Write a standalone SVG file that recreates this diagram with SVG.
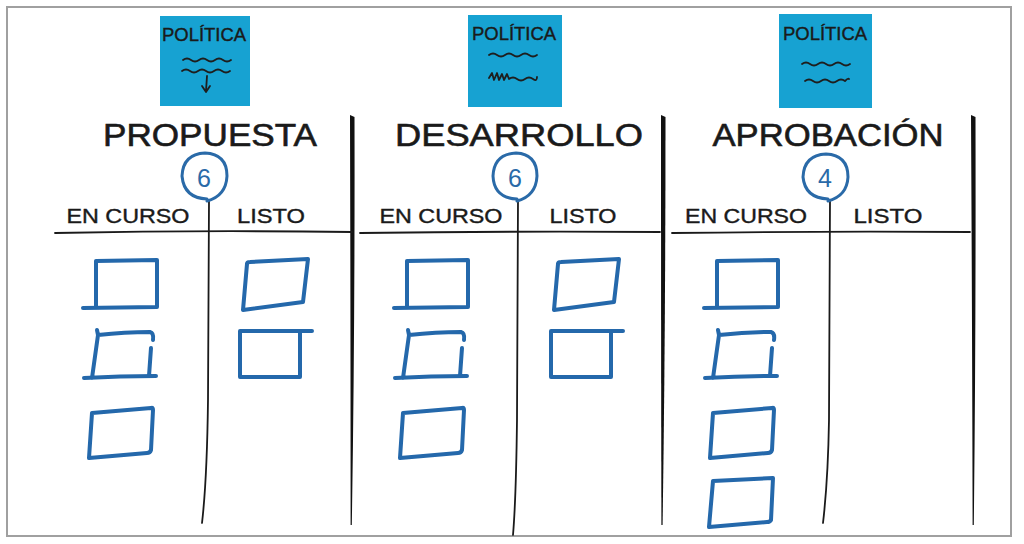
<svg xmlns="http://www.w3.org/2000/svg" width="1024" height="544" viewBox="0 0 1024 544">
<style>
.note{fill:#17a2d2}
.ink{fill:none;stroke:#1e1e1e;stroke-width:1.8;stroke-linecap:round;stroke-linejoin:round}
.ntext{font-family:"Liberation Sans",Arial,sans-serif;font-size:18px;fill:#1a1a1a;stroke:#1a1a1a;stroke-width:0.4;text-anchor:middle}
.head{font-family:"Liberation Sans",Arial,sans-serif;font-size:32px;fill:#1a1a1a;stroke:#1a1a1a;stroke-width:0.6;text-anchor:middle}
.sub{font-family:"Liberation Sans",Arial,sans-serif;font-size:21px;fill:#1a1a1a;stroke:#1a1a1a;stroke-width:0.4;text-anchor:middle}
.num{font-family:"Liberation Sans",Arial,sans-serif;font-size:25px;fill:#2a6aa8;text-anchor:middle}
.ring{fill:none;stroke:#2a6aa8;stroke-width:3;stroke-linecap:round}
.card{fill:none;stroke:#2468ab;stroke-width:4;stroke-linecap:round;stroke-linejoin:round}
.rule{fill:none;stroke:#1a1a1a;stroke-width:1.8;stroke-linecap:round}
.major{fill:#111}
</style>
<rect x="0" y="0" width="1024" height="544" fill="#ffffff"/>
<rect x="7" y="7" width="1004" height="529" fill="#ffffff" stroke="#a0a0a0" stroke-width="2"/>

<g id="policy1">
<rect class="note" x="160" y="16" width="90" height="90"/>
<text class="ntext" x="204" y="41" textLength="84" lengthAdjust="spacingAndGlyphs">POLÍTICA</text>
<path class="ink" d="M183,60 q4,-3 8,0 t8,0 t8,0 t8,0 t8,0 t8,0"/>
<path class="ink" d="M182,71 q4,-3 8,0 t8,0 t8,0 t8,0 t8,0 t8,0"/>
<path class="ink" d="M207,76 L206,91 M202,86 L206,92 L210,86"/>
</g>
<g id="policy2">
<rect class="note" x="468" y="15" width="94" height="92"/>
<text class="ntext" x="514" y="40" textLength="84" lengthAdjust="spacingAndGlyphs">POLÍTICA</text>
<path class="ink" d="M489,55 q4,-3 8,0 t8,0 t8,0 t8,0 t8,0 t8,0"/>
<path class="ink" d="M489,78 l3,-5 l2,7 l3,-7 l2,7 l3,-6 l2,6 l3,-6 l2,5 q4,-3 8,0 t8,0 t8,0 t4,-2"/>
</g>
<g id="policy3">
<rect class="note" x="779" y="14" width="93" height="94"/>
<text class="ntext" x="825" y="40" textLength="84" lengthAdjust="spacingAndGlyphs">POLÍTICA</text>
<path class="ink" d="M802,64 q4,-3 8,0 t8,0 t8,0 t8,0 t8,0 t8,0"/>
<path class="ink" d="M805,81 q4,-3 8,0 t8,0 t8,0 t8,0 t8,0 q3,-3 4,-2"/>
</g>

<g id="grid">
<path class="major" d="M350,115 L354.5,117 Q355,330 351.8,525 L350.6,525 Q350.6,330 350,115 Z"/>
<path class="major" d="M661,115 L665.5,117 Q665.5,330 662.6,525 L661.4,525 Q661,330 661,115 Z"/>
<path class="major" d="M971,115 L975.5,117 Q976,330 973.8,525 L972.6,525 Q972.2,330 971,115 Z"/>
<path class="rule" d="M55,233 Q200,230 352,232"/>
<path class="rule" d="M360,233 Q510,231 660,232"/>
<path class="rule" d="M672,233 Q820,231 970,232"/>
<path class="rule" d="M209,200 L208,400 Q207,480 202,523"/>
<path class="rule" d="M518,200 L517,420 Q516,500 513,535"/>
<path class="rule" d="M830,200 L829,420 Q828,480 823,523"/>
</g>

<g id="stage1">
<text class="head" x="210" y="146" textLength="214" lengthAdjust="spacingAndGlyphs">PROPUESTA</text>
<path class="ring" d="M207,199 Q184,198 182,176 Q183,154 205,153 Q227,154 227,176 Q226,196 207,201"/>
<text class="num" x="204" y="187">6</text>
<text class="sub" x="128" y="223" textLength="123" lengthAdjust="spacingAndGlyphs">EN CURSO</text>
<text class="sub" x="271" y="223" textLength="68" lengthAdjust="spacingAndGlyphs">LISTO</text>
</g>
<g id="stage2">
<text class="head" x="519" y="146" textLength="248" lengthAdjust="spacingAndGlyphs">DESARROLLO</text>
<path class="ring" d="M517,199 Q494,198 493,176 Q494,154 516,153 Q537,154 537,176 Q536,196 517,201"/>
<text class="num" x="515" y="187">6</text>
<text class="sub" x="441" y="223" textLength="123" lengthAdjust="spacingAndGlyphs">EN CURSO</text>
<text class="sub" x="583" y="223" textLength="67" lengthAdjust="spacingAndGlyphs">LISTO</text>
</g>
<g id="stage3">
<text class="head" x="828" y="146" textLength="231" lengthAdjust="spacingAndGlyphs">APROBACIÓN</text>
<path class="ring" d="M828,199 Q805,198 803,177 Q804,155 826,154 Q848,155 848,177 Q847,196 828,201"/>
<text class="num" x="825" y="187">4</text>
<text class="sub" x="746" y="223" textLength="122" lengthAdjust="spacingAndGlyphs">EN CURSO</text>
<text class="sub" x="888" y="223" textLength="69" lengthAdjust="spacingAndGlyphs">LISTO</text>
</g>

<defs>
<path id="cA" d="M96,261 L157,260 L157,307 L83,308 M96,261 L96,308"/>
<path id="cB" d="M97,330 L98,335 Q125,332 150,332 Q154,333 153,340 M151,348 L149,376 M84,378 Q120,376 156,376 M98,335 L92,378"/>
<path id="cC" d="M92,413 L151,408 Q153,407 153,410 L151,450 Q150,453 147,453 L89,458 Z"/>
<path id="cD" d="M247,264 Q247,262 250,262 L308,259 L303,302 L243,310 Z"/>
<path id="cE" d="M240,331 L312,331 M300,331 L300,377 L240,377 L240,331"/>
</defs>

<g id="cards1">
<use class="card" href="#cA"/>
<use class="card" href="#cB"/>
<use class="card" href="#cC"/>
<use class="card" href="#cD"/>
<use class="card" href="#cE"/>
</g>
<g id="cards2" transform="translate(311,0)">
<use class="card" href="#cA"/>
<use class="card" href="#cB"/>
<use class="card" href="#cC"/>
<use class="card" href="#cD"/>
<use class="card" href="#cE"/>
</g>
<g id="cards3" transform="translate(621,0)">
<use class="card" href="#cA"/>
<use class="card" href="#cB"/>
<use class="card" href="#cC"/>
<path class="card" d="M92,481 L152,478 L150,520 Q149,522 146,522 L88,527 Z"/>
</g>
</svg>
